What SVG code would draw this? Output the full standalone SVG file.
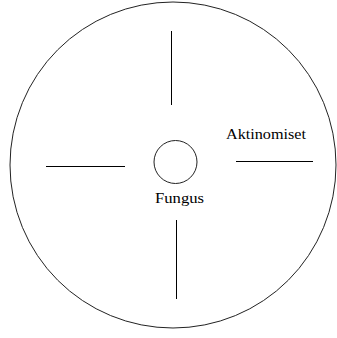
<svg xmlns="http://www.w3.org/2000/svg" width="337" height="338" viewBox="0 0 337 338">
<style>
.ln{stroke:#000;stroke-width:1;fill:none}
.c{stroke:#222;stroke-width:1;fill:none}
.t{font-family:"Liberation Serif","Times New Roman",serif;font-size:14px;fill:#000}
</style>
<rect width="337" height="338" fill="#fff"/>
<g id="outer"><ellipse class="c" cx="173" cy="165" rx="163" ry="163"/></g>
<g id="fungus">
<circle class="c" cx="175.5" cy="162" r="21.5"/>
<text class="t" x="155" y="203" textLength="49" lengthAdjust="spacingAndGlyphs">Fungus</text>
</g>
<g id="aktinomiset">
<text class="t" x="226" y="139" textLength="80" lengthAdjust="spacingAndGlyphs">Aktinomiset</text>
</g>
<g id="connectors">
<line class="ln" x1="171.5" y1="31" x2="171.5" y2="105"/>
<line class="ln" x1="176.5" y1="220" x2="176.5" y2="299"/>
<line class="ln" x1="46" y1="166.5" x2="125" y2="166.5"/>
<line class="ln" x1="236" y1="161.5" x2="313" y2="161.5"/>
</g>
</svg>
